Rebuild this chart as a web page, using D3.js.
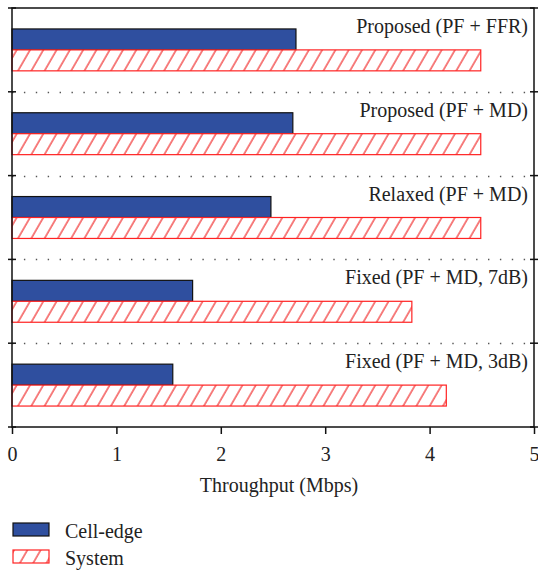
<!DOCTYPE html>
<html>
<head>
<meta charset="utf-8">
<script src="https://cdn.jsdelivr.net/npm/d3@7"></script>
<style>
  body { margin: 0; background: #fff; }
</style>
</head>
<body>
<div id="chart"></div>
<script>
const schemes = [
  'Proposed (PF + FFR)',
  'Proposed (PF + MD)',
  'Relaxed (PF + MD)',
  'Fixed (PF + MD, 7dB)',
  'Fixed (PF + MD, 3dB)'
];
const series = ['Cell-edge', 'System'];
const cellEdge = [2.72, 2.69, 2.48, 1.73, 1.54];
const system = [4.49, 4.49, 4.49, 3.83, 4.16];
const xTicks = [0, 1, 2, 3, 4, 5];
const xLabel = 'Throughput (Mbps)';

const width = 538;
const height = 571;
const margin = { top: 8, right: 4, bottom: 144, left: 12 };
const font = 'Liberation Serif';
const fontSize = 20;

const svg = d3.select('#chart')
  .append('svg')
  .attr('width', width)
  .attr('height', height)
  .attr('font-family', font);

const defs = svg.append('defs');
const hatch = defs.append('pattern')
  .attr('id', 'hatch')
  .attr('patternUnits', 'userSpaceOnUse')
  .attr('width', 11.5)
  .attr('height', 11.5)
  .attr('patternTransform', 'rotate(30)');
hatch.append('rect')
  .attr('width', 11.5)
  .attr('height', 11.5)
  .attr('fill', '#fff');
hatch.append('line')
  .attr('x1', 1).attr('y1', 0)
  .attr('x2', 1).attr('y2', 11.5)
  .attr('stroke', '#f01818')
  .attr('stroke-width', 1.1);

const x = d3.scaleLinear()
  .domain([0, 5])
  .range([margin.left, width - margin.right]);

const y = d3.scaleBand()
  .domain(schemes)
  .range([margin.top, height - margin.bottom]);

const ySub = d3.scaleBand()
  .domain(series)
  .range([0, y.bandwidth()])
  .paddingOuter(1);

const rows = schemes.map((s, i) => ({ scheme: s, values: [cellEdge[i], system[i]] }));

// dotted separators between groups
svg.append('g')
  .selectAll('line')
  .data(schemes.slice(1))
  .join('line')
  .attr('x1', x(0))
  .attr('x2', x(5))
  .attr('y1', d => Math.round(y(d)) + 0.5)
  .attr('y2', d => Math.round(y(d)) + 0.5)
  .attr('stroke', '#555')
  .attr('stroke-width', 1.4)
  .attr('stroke-dasharray', '1.4 10.5');

const group = svg.append('g')
  .selectAll('g')
  .data(rows)
  .join('g')
  .attr('transform', d => `translate(0,${y(d.scheme)})`);

group.selectAll('rect')
  .data(d => d.values.map((v, j) => ({ key: series[j], value: v })))
  .join('rect')
  .attr('x', x(0))
  .attr('y', d => ySub(d.key))
  .attr('width', d => x(d.value) - x(0))
  .attr('height', ySub.bandwidth())
  .attr('fill', d => d.key === 'Cell-edge' ? '#2f4f9f' : 'url(#hatch)')
  .attr('stroke', d => d.key === 'Cell-edge' ? '#111' : '#f22')
  .attr('stroke-width', 1.2);

group.append('text')
  .attr('x', x(5) - 6)
  .attr('y', 25)
  .attr('text-anchor', 'end')
  .attr('font-family', font)
  .attr('font-size', fontSize)
  .attr('fill', '#222')
  .text(d => d.scheme);

// frame
const plotBottom = height - margin.bottom;
svg.append('rect')
  .attr('x', x(0))
  .attr('y', margin.top)
  .attr('width', x(5) - x(0))
  .attr('height', plotBottom - margin.top)
  .attr('fill', 'none')
  .attr('stroke', '#111')
  .attr('stroke-width', 1.5);

// left and right ticks at group boundaries
const yBounds = schemes.map(s => y(s)).concat([plotBottom]);
[x(0), x(5)].forEach(px => {
  svg.append('g')
    .selectAll('line')
    .data(yBounds)
    .join('line')
    .attr('x1', px - 4)
    .attr('x2', px + 4)
    .attr('y1', d => d)
    .attr('y2', d => d)
    .attr('stroke', '#111')
    .attr('stroke-width', 1.5);
});

const xAxis = svg.append('g')
  .attr('transform', `translate(0,${plotBottom})`)
  .call(d3.axisBottom(x).tickValues(xTicks).tickSize(7).tickPadding(13).tickFormat(d3.format('d')));
xAxis.attr('font-family', font).attr('font-size', fontSize);
xAxis.select('.domain').remove();
xAxis.selectAll('.tick line').attr('stroke', '#111').attr('stroke-width', 1.5);
xAxis.selectAll('.tick text').attr('fill', '#222');

svg.append('text')
  .attr('x', 279)
  .attr('y', 492)
  .attr('text-anchor', 'middle')
  .attr('font-family', font)
  .attr('font-size', fontSize)
  .attr('fill', '#222')
  .text(xLabel);

// legend
const legend = svg.append('g')
  .selectAll('g')
  .data(series)
  .join('g')
  .attr('transform', (d, i) => `translate(13,${523 + i * 27})`);

legend.append('rect')
  .attr('width', 36)
  .attr('height', 13)
  .attr('fill', d => d === 'Cell-edge' ? '#2f4f9f' : 'url(#hatch)')
  .attr('stroke', d => d === 'Cell-edge' ? '#111' : '#f22')
  .attr('stroke-width', 1.2);

legend.append('text')
  .attr('x', 52)
  .attr('y', 15)
  .attr('font-family', font)
  .attr('font-size', fontSize)
  .attr('fill', '#222')
  .text(d => d);
</script>
</body>
</html>
